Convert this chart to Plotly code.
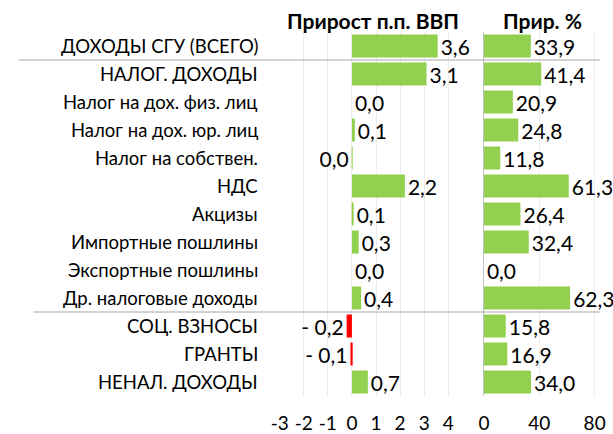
import plotly.graph_objects as go

categories = ["ДОХОДЫ СГУ (ВСЕГО)", "НАЛОГ. ДОХОДЫ", "Налог на дох. физ. лиц",
              "Налог на дох. юр. лиц", "Налог на собствен.", "НДС", "Акцизы",
              "Импортные пошлины", "Экспортные пошлины", "Др. налоговые доходы",
              "СОЦ. ВЗНОСЫ", "ГРАНТЫ", "НЕНАЛ. ДОХОДЫ"]
gdp_pp = [3.56, 3.1, 0.0, 0.12, -0.01, 2.2, 0.06, 0.28, 0.0, 0.38, -0.22, -0.06, 0.66]
growth_pct = [33.9, 41.4, 20.9, 24.8, 11.8, 61.3, 26.4, 32.4, 0.0, 62.3, 15.8, 16.9, 34.0]
title_left = "Прирост п.п. ВВП"
title_right = "Прир. %"
left_ticks = [-3, -2, -1, 0, 1, 2, 3, 4]
right_ticks = [0, 40, 80]

FONT = "Lato"
W, H = 613, 434
GREEN = "#92D050"
RED = "#FF0000"
VAL_SIZE = 21
top, bottom = 32, 401
PH = bottom - top


def fmt(v):
    r = round(v, 1)
    if abs(r) < 0.05:
        return "0,0"
    s = f"{abs(r):.1f}".replace(".", ",")
    return ("- " + s) if r < 0 else s


fig = go.Figure()
fig.add_trace(go.Bar(
    y=categories, x=gdp_pp, orientation="h",
    marker=dict(color=[RED if v < -0.05 else GREEN for v in gdp_pp], line=dict(width=0)),
    text=[fmt(v) for v in gdp_pp], textposition="outside", constraintext="none",
    textfont=dict(size=VAL_SIZE, color="#000", family=FONT), cliponaxis=False,
    xaxis="x", yaxis="y", showlegend=False, hoverinfo="skip"))
fig.add_trace(go.Bar(
    y=categories, x=growth_pct, orientation="h",
    marker=dict(color=GREEN, line=dict(width=0)),
    text=[fmt(v) for v in growth_pct], textposition="outside", constraintext="none",
    textfont=dict(size=VAL_SIZE, color="#000", family=FONT), cliponaxis=False,
    xaxis="x2", yaxis="y2", showlegend=False, hoverinfo="skip"))

annotations = []
for c in categories:
    annotations.append(dict(text=c, xref="paper", yref="y", x=257 / W, y=c,
                            xanchor="right", yanchor="middle", showarrow=False,
                            font=dict(size=18.5, color="#000", family=FONT)))
title_y = 1 + (top - 20) / PH
annotations.append(dict(text="<b>" + title_left + "</b>", xref="paper", yref="paper",
                        x=373 / W, y=title_y, xanchor="center", yanchor="middle",
                        showarrow=False, font=dict(size=21, color="#000", family=FONT)))
annotations.append(dict(text="<b>" + title_right + "</b>", xref="paper", yref="paper",
                        x=546 / W, y=title_y, xanchor="center", yanchor="middle",
                        showarrow=False, font=dict(size=21, color="#000", family=FONT)))

shapes = [
    dict(type="line", xref="paper", yref="y", x0=10 / W, x1=605 / W, y0=0.5, y1=0.5,
         line=dict(color="#A6A6A6", width=1)),
    dict(type="line", xref="paper", yref="y", x0=25 / W, x1=605 / W, y0=9.5, y1=9.5,
         line=dict(color="#A6A6A6", width=1)),
]

fig.update_layout(
    width=W, height=H, margin=dict(l=0, r=0, t=top, b=H - bottom),
    paper_bgcolor="white", plot_bgcolor="white",
    bargap=0.17, font=dict(family=FONT, size=16, color="#000"),
    xaxis=dict(domain=[277 / W, 452 / W], range=[-3, 4.1], tickvals=left_ticks,
               ticktext=[str(t) for t in left_ticks], showgrid=True, gridcolor="#EDEDED",
               zeroline=False, showline=False, ticks="", ticklabelstandoff=14,
               tickfont=dict(size=19, color="#000", family=FONT), fixedrange=True),
    yaxis=dict(anchor="x", type="category", autorange="reversed", showticklabels=False,
               showgrid=False, zeroline=False, showline=False),
    xaxis2=dict(domain=[486 / W, 605 / W], range=[0, 84], tickvals=right_ticks,
                showgrid=True, gridcolor="#EDEDED", zeroline=False, showline=False,
                ticks="", ticklabelstandoff=14,
                tickfont=dict(size=19, color="#000", family=FONT)),
    yaxis2=dict(anchor="x2", matches="y", type="category", autorange="reversed",
                showticklabels=False, showgrid=False, zeroline=False,
                showline=True, linecolor="#BFBFBF", linewidth=1),
    annotations=annotations, shapes=shapes,
)

fig.write_html("out.html", config={"displayModeBar": False},
               post_script="document.body.style.margin='0';document.body.style.overflow='hidden';")
